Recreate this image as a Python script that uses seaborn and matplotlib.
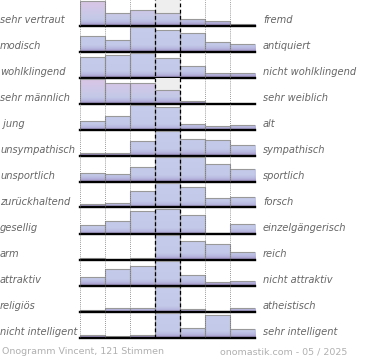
import numpy as np
import seaborn as sns
from matplotlib import pyplot as plt
from matplotlib.colors import LinearSegmentedColormap

# labels left / right of each scale
left_labels = ["sehr vertraut", "modisch", "wohlklingend", "sehr männlich", " jung",
               "unsympathisch", "unsportlich", "zurückhaltend", "gesellig", "arm",
               "attraktiv", "religiös", "nicht intelligent"]
right_labels = ["fremd", "antiquiert", "nicht wohlklingend", "sehr weiblich", "alt",
                "sympathisch", "sportlich", "forsch", "einzelgängerisch", "reich",
                "nicht attraktiv", "atheistisch", "sehr intelligent"]

# relative vote shares per scale step (7 steps)
vertraut = [25, 12.3, 15.3, 12.7, 6.3, 4.3, 2]
modisch = [15.3, 11.3, 24, 21, 18.3, 9, 7.3]
wohlklingend = [19.3, 21.3, 23.7, 19, 11, 4.3, 4.3]
maennlich = [23.7, 20, 20, 12.7, 2.3, 0, 0]
jung = [8, 13, 24, 22, 5, 3.3, 4.3]
sympathisch = [2.3, 2.3, 13, 22.3, 14.7, 13.7, 9]
sportlich = [8, 7, 14.3, 24, 24, 17.3, 12.3]
forsch = [3, 4.7, 15.7, 24, 20, 9, 10]
gesellig = [8, 12.3, 21.3, 24, 18, 0.8, 9.3]
reich = [1.7, 0.7, 1.7, 24, 18.3, 14.7, 7]
attraktiv = [8, 16.3, 19.3, 24, 10.3, 3, 4.3]
religioes = [1.7, 3.7, 3.7, 24, 2.7, 0.7, 3.7]
intelligent = [2.3, 1, 2.3, 24, 9.3, 21.7, 8.3]

rows = [vertraut, modisch, wohlklingend, maennlich, jung, sympathisch, sportlich,
        forsch, gesellig, reich, attraktiv, religioes, intelligent]
pink_rows = [0, 3]
steps = np.arange(7)

W, H = 370, 360
fig = plt.figure(figsize=(W / 100, H / 100), dpi=100)
fig.patch.set_facecolor("white")

x_left, x_right = 80, 255.5
row_h = 26
grad = np.linspace(0, 1, 200).reshape(-1, 1)

for i, vals in enumerate(rows):
    base = 25.5 + row_h * i
    ax = fig.add_axes([x_left / W, 1 - base / H, (x_right - x_left) / W, row_h / H])
    top = max(vals) * 26 / 24.8

    top_col = "#ddc5e6" if i in pink_rows else "#c6cceb"
    cmap = LinearSegmentedColormap.from_list(
        "bar", [(0, "#a496c7"), (0.1, "#b8b8e0"), (0.22, "#c3c9e8"), (1, top_col)])

    sns.barplot(x=steps, y=vals, ax=ax, width=1, color="white", saturation=1,
                edgecolor="#999999", linewidth=0.8, zorder=3)

    # gradient fill clipped to every bar
    for p in list(ax.patches):
        if p.get_height() <= 0:
            p.set_visible(False)
            continue
        p.set_facecolor("none")
        x0 = p.get_x()
        im = ax.imshow(grad, cmap=cmap, origin="lower", aspect="auto",
                       extent=[x0, x0 + p.get_width(), 0, top], zorder=2,
                       interpolation="bilinear")
        im.set_clip_path(p)

    if i in pink_rows:
        ax.axvspan(2.5, 3.5, color="#eeeeee", zorder=0, lw=0)

    ax.axhline(0, color="black", lw=1.7, clip_on=False, zorder=5)
    ax.set_xlim(-0.5, 6.5)
    ax.set_ylim(0, top)
    ax.axis("off")

    fig.text(0 / W, 1 - (base - 5.5) / H, left_labels[i], ha="left", va="center",
             fontsize=7.1, style="italic", color="#666666")
    fig.text(263 / W, 1 - (base - 5.5) / H, right_labels[i], ha="left", va="center",
             fontsize=7.1, style="italic", color="#666666")

# grid lines over the whole block
ov = fig.add_axes([x_left / W, 1 - 338 / H, (x_right - x_left) / W, 338 / H])
ov.patch.set_alpha(0)
for xv in [-0.5, 0.5, 1.5, 4.5, 5.5, 6.5]:
    ov.axvline(xv, color="#777777", lw=0.6, ls=(0, (1, 1.5)), zorder=6)
for xv in [2.5, 3.5]:
    ov.axvline(xv, color="black", lw=0.9, ls=(0, (3, 2)), zorder=6)
ov.set_xlim(-0.5, 6.5)
ov.set_ylim(0, 1)
ov.axis("off")

fig.text(2 / W, 1 - 352 / H, "Onogramm Vincent, 121 Stimmen", ha="left", va="center",
         fontsize=6.8, color="#b0b0b0")
fig.text(347 / W, 1 - 352 / H, "onomastik.com - 05 / 2025", ha="right", va="center",
         fontsize=6.8, color="#b0b0b0")

fig.savefig("out.png", dpi=100, facecolor="white")
